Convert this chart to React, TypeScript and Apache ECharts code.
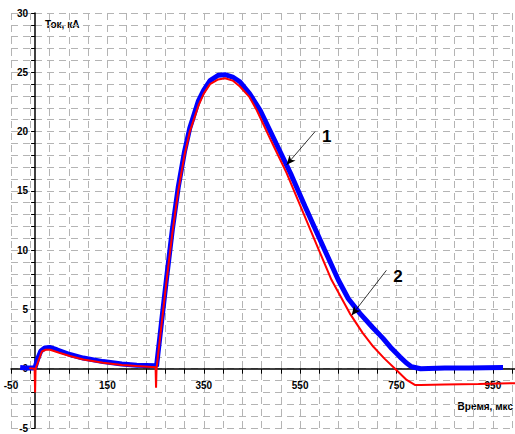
import React, { useEffect, useRef } from "react";
import * as echarts from "echarts";

// Curve 1 (measured, blue)
const blueX = [-31, -15, -5, 0, 5, 12, 20, 30, 45, 72, 100, 141, 180, 211, 250, 252, 262, 273, 285, 297, 310, 321, 339, 350, 363, 380, 394, 410, 425, 445, 467, 500, 532, 560, 600, 629, 650, 674, 700, 722, 740, 757, 770, 781, 800, 850, 900, 971];
const blueY = [0.1, 0.05, 0.05, 0.1, 0.8, 1.5, 1.75, 1.8, 1.6, 1.2, 0.9, 0.6, 0.4, 0.3, 0.25, 0.2, 3.8, 7.7, 11.8, 15.3, 18.3, 20.3, 22.6, 23.5, 24.3, 24.75, 24.8, 24.6, 24.2, 23.2, 21.8, 19.0, 16.3, 13.7, 10.1, 7.5, 5.9, 4.67, 3.5, 2.56, 1.7, 1.0, 0.5, 0.17, 0.0, 0.05, 0.05, 0.1];

// Curve 2 (model, red)
const redX = [-12, -1, 0, 1, 14, 22, 31, 50, 72, 100, 141, 180, 211, 250, 251, 252, 262, 273, 285, 297, 310, 321, 339, 350, 363, 380, 394, 410, 425, 445, 460, 490, 522, 560, 590, 615, 653, 680, 702, 725, 747, 771, 788, 800, 850, 920, 1000];
const redY = [0.05, 0, -2, 0, 1.45, 1.6, 1.6, 1.35, 1.07, 0.78, 0.5, 0.32, 0.23, 0.12, -1.6, 0, 3.6, 7.5, 11.5, 15, 18, 20, 22.2, 23.2, 24.0, 24.4, 24.5, 24.3, 23.8, 22.9, 21.8, 19.2, 16.5, 12.8, 9.9, 7.5, 4.67, 3.0, 1.85, 0.85, 0, -0.95, -1.37, -1.38, -1.33, -1.28, -1.22];

// Annotation labels and arrows (data units)
const labelNames = ["1", "2"];
const labelX = [605, 753];
const labelY = [19.6, 7.8];
const arrowFromX = [581, 729];
const arrowFromY = [20.0, 8.3];
const arrowToX = [522, 657];
const arrowToY = [17.2, 4.5];

const xMin = -50;
const xMax = 1000;
const xStep = 40;
const xLabelStep = 200;
const yMin = -5;
const yMax = 30;
const yStep = 1;
const yLabelStep = 5;

const yAxisTitle = "Ток, кА";
const xAxisTitle = "Время, мкс";

const FONT = "'Liberation Sans', Arial, sans-serif";

const W = 515;
const H = 434;
const G_LEFT = 11;
const G_RIGHT = -2;
const G_TOP = 13;
const G_BOTTOM = 6;

export default function App() {
  const ref = useRef<HTMLDivElement>(null);
  useEffect(() => {
    if (!ref.current) return;
    const chart = echarts.init(ref.current, undefined, { renderer: "svg" });
    const blue = blueX.map((x, i) => [x, blueY[i]]);
    const red = redX.map((x, i) => [x, redY[i]]);
    const marks = labelNames.map((n, i) => ({
      coord: [labelX[i], labelY[i]],
      value: n,
    }));
    const arrows = labelNames.map((_, i) => [
      { coord: [arrowFromX[i], arrowFromY[i]] },
      { coord: [arrowToX[i], arrowToY[i]] },
    ]);
    // place axes through zero by offsetting them inward from the grid edges
    const gw = W - G_LEFT - G_RIGHT;
    const gh = H - G_TOP - G_BOTTOM;
    const yAxisOffset = -((0 - xMin) / (xMax - xMin)) * gw;
    const xAxisOffset = -((0 - yMin) / (yMax - yMin)) * gh;
    const gridLine = { show: true, lineStyle: { color: "#b4b4b4", width: 1, type: [7, 5] as any } };
    chart.setOption({
      animation: false,
      backgroundColor: "#ffffff",
      grid: { left: G_LEFT, right: G_RIGHT, top: G_TOP, bottom: G_BOTTOM, containLabel: false, outerBoundsMode: "none" },
      xAxis: {
        type: "value",
        position: "bottom",
        offset: xAxisOffset,
        min: xMin,
        max: xMax,
        interval: xStep,
        axisLine: { onZero: false, lineStyle: { color: "#000", width: 1.5 } },
        axisTick: { show: true, length: 5, lineStyle: { color: "#000", width: 1 } },
        axisLabel: {
          margin: 12,
          color: "#000",
          fontFamily: FONT,
          fontWeight: "bold",
          fontSize: 10,
          showMaxLabel: false,
          formatter: (v: number) => (Math.round(v - xMin) % xLabelStep === 0 ? String(v) : ""),
        },
        splitLine: gridLine,
      },
      yAxis: {
        type: "value",
        position: "left",
        offset: yAxisOffset,
        min: yMin,
        max: yMax,
        interval: yStep,
        axisLine: { onZero: false, lineStyle: { color: "#000", width: 1.5 } },
        axisTick: { show: true, length: 4, lineStyle: { color: "#000", width: 1 } },
        axisLabel: {
          margin: 7,
          color: "#000",
          fontFamily: FONT,
          fontWeight: "bold",
          fontSize: 10,
          formatter: (v: number) => (Math.round(v) % yLabelStep === 0 ? String(v) : ""),
        },
        splitLine: gridLine,
      },
      series: [
        {
          name: "1",
          type: "line",
          data: blue,
          showSymbol: false,
          symbol: "none",
          lineStyle: { color: "#0000ff", width: 5 },
          silent: true,
          z: 2,
        },
        {
          name: "2",
          type: "line",
          data: red,
          showSymbol: false,
          symbol: "none",
          lineStyle: { color: "#ff0000", width: 2 },
          itemStyle: { color: "#ff0000" },
          silent: true,
          z: 3,
          markPoint: {
            silent: true,
            symbol: "circle",
            symbolSize: 1,
            itemStyle: { color: "rgba(0,0,0,0)" },
            label: {
              show: true,
              position: "inside",
              formatter: "{c}",
              color: "#000000",
              fontFamily: FONT,
              fontWeight: "bold",
              fontSize: 17,
            },
            data: marks,
          },
          markLine: {
            silent: true,
            symbol: ["none", "arrow"],
            symbolSize: [6, 9],
            label: { show: false },
            lineStyle: { color: "#000", width: 0.8, type: "solid" },
            data: arrows,
          },
        },
      ],
      graphic: [
        {
          type: "text",
          left: 45,
          top: 19,
          style: { text: yAxisTitle, fill: "#000", font: `bold 10px ${FONT}` },
        },
        {
          type: "text",
          right: 2,
          top: 401,
          style: { text: xAxisTitle, fill: "#000", font: `bold 10px ${FONT}` },
        },
      ],
    });
    return () => chart.dispose();
  }, []);
  return (
    <div
      ref={ref}
      style={{ position: "fixed", left: 0, top: 0, width: W, height: H }}
    />
  );
}
